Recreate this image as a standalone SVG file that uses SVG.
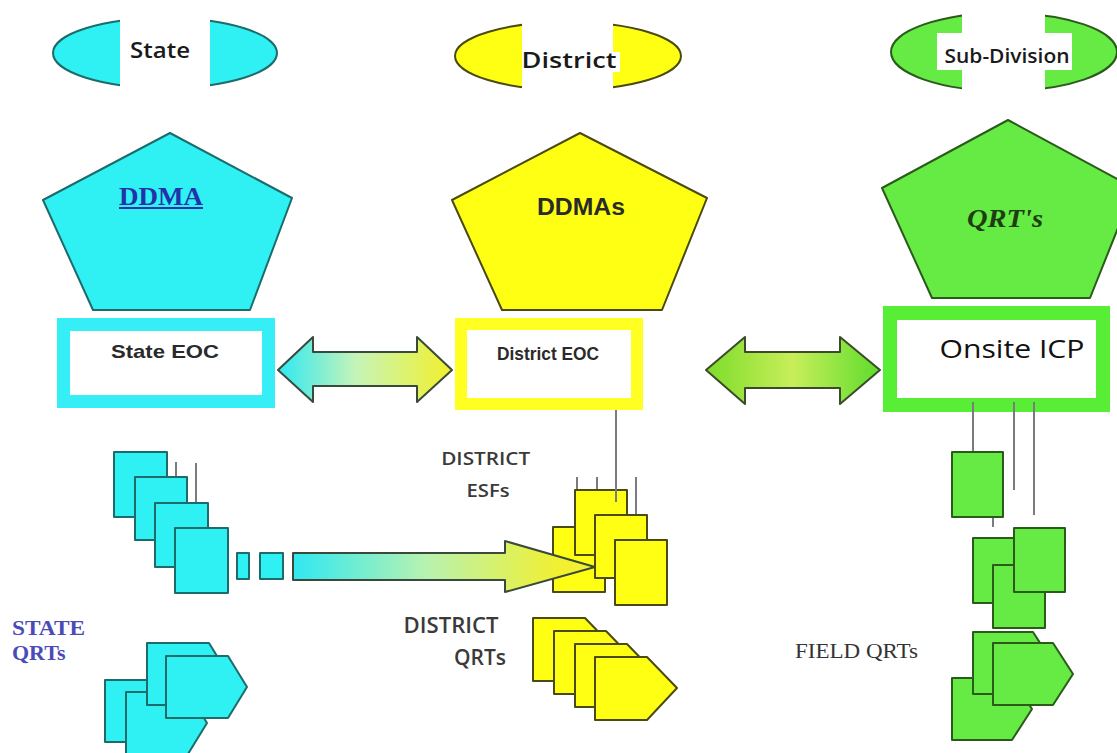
<svg xmlns="http://www.w3.org/2000/svg" width="1117" height="753" viewBox="0 0 1117 753">
  <style>
    .cy { fill: #2ff0f2; stroke: #1d6b6b; stroke-width: 2; stroke-linejoin: round; }
    .ye { fill: #ffff14; stroke: #4a4a12; stroke-width: 2; stroke-linejoin: round; }
    .gr { fill: #66ea44; stroke: #2b5b1b; stroke-width: 2; stroke-linejoin: round; }
    .cut { fill: #ffffff; }
    .wire { stroke: #7a7a80; stroke-width: 2; fill: none; }
    .lvl { font-family: "Open Sans", "Noto Sans", sans-serif; font-weight: 600; fill: #1a1a1a; }
    .eoc { font-family: "Liberation Sans", Arial, sans-serif; font-weight: bold; fill: #2a2a2a; }
    .cap { font-family: "Open Sans", "Noto Sans", sans-serif; font-weight: 600; fill: #3a3a3a; }
    .serif { font-family: "Liberation Serif", "Times New Roman", serif; }
  </style>
  <defs>
    <linearGradient id="gradCyYe" x1="0" y1="0" x2="1" y2="0">
      <stop offset="0" stop-color="#2fe8f2"/>
      <stop offset="0.45" stop-color="#c6f4b8"/>
      <stop offset="1" stop-color="#f2f02a"/>
    </linearGradient>
    <linearGradient id="gradGr" x1="0" y1="0" x2="1" y2="0">
      <stop offset="0" stop-color="#7ddc2a"/>
      <stop offset="0.5" stop-color="#c8ee5a"/>
      <stop offset="1" stop-color="#5edc2c"/>
    </linearGradient>
    <linearGradient id="gradLow" gradientUnits="userSpaceOnUse" x1="293" y1="0" x2="560" y2="0">
      <stop offset="0" stop-color="#2fe8f2"/>
      <stop offset="0.5" stop-color="#b8f2b0"/>
      <stop offset="1" stop-color="#f2f030"/>
    </linearGradient>
  </defs>

  <rect width="1117" height="753" fill="#ffffff"/>

  <!-- level headers -->
  <g id="hdr-state">
    <ellipse class="cy" cx="165" cy="53" rx="112" ry="35"/>
    <rect class="cut" x="120" y="12" width="90" height="82"/>
    <text class="lvl" x="160" y="58" font-size="21" text-anchor="middle" textLength="60" lengthAdjust="spacingAndGlyphs">State</text>
  </g>
  <g id="hdr-district">
    <ellipse class="ye" cx="568" cy="56" rx="113" ry="34"/>
    <rect class="cut" x="522" y="16" width="91" height="80"/>
    <rect class="cut" x="600" y="52" width="20" height="20"/>
    <text class="lvl" x="569" y="68" font-size="22" text-anchor="middle" textLength="95" lengthAdjust="spacingAndGlyphs">District</text>
  </g>
  <g id="hdr-subdivision">
    <ellipse class="gr" cx="1004" cy="52" rx="113" ry="39"/>
    <rect class="cut" x="962" y="8" width="83" height="90"/>
    <rect class="cut" x="937" y="33" width="135" height="37"/>
    <text class="lvl" x="1007" y="63" font-size="19" text-anchor="middle" textLength="125" lengthAdjust="spacingAndGlyphs">Sub-Division</text>
  </g>

  <!-- authorities -->
  <g id="ddma">
    <polygon class="cy" points="170,133 292,198 250,310 93,310 43,200"/>
    <text class="serif" x="161" y="205" font-size="25" font-weight="bold" fill="#2233aa" text-anchor="middle" textLength="84" lengthAdjust="spacingAndGlyphs">DDMA</text>
    <rect x="119" y="207" width="84" height="2" fill="#2233aa"/>
  </g>
  <g id="ddmas">
    <polygon class="ye" points="580,133 707,198 662,310 502,310 452,200"/>
    <text class="eoc" x="581" y="215" font-size="23" text-anchor="middle" textLength="88" lengthAdjust="spacingAndGlyphs">DDMAs</text>
  </g>
  <g id="qrts-top">
    <polygon class="gr" points="1008,120 1134,188 1090,298 932,298 882,188"/>
    <text class="serif" x="1005" y="227" font-size="26" font-weight="bold" font-style="italic" fill="#1d3d12" text-anchor="middle" textLength="76" lengthAdjust="spacingAndGlyphs">QRT's</text>
  </g>

  <!-- operation centres -->
  <g id="state-eoc">
    <rect x="63.5" y="324.5" width="205" height="77" fill="#ffffff" stroke="#36eef5" stroke-width="13"/>
    <text class="eoc" x="165" y="358" font-size="19" text-anchor="middle" textLength="108" lengthAdjust="spacingAndGlyphs">State EOC</text>
  </g>
  <g id="district-eoc">
    <rect x="461" y="324" width="176" height="80" fill="#ffffff" stroke="#ffff22" stroke-width="12"/>
    <text class="eoc" x="548" y="360" font-size="18" text-anchor="middle" textLength="102" lengthAdjust="spacingAndGlyphs">District EOC</text>
  </g>
  <g id="onsite-icp">
    <rect x="890" y="313" width="213" height="92" fill="#ffffff" stroke="#58ee36" stroke-width="14"/>
    <text x="1012" y="358" font-family="Open Sans, Noto Sans, sans-serif" font-size="25" font-weight="500" fill="#111111" text-anchor="middle" textLength="145" lengthAdjust="spacingAndGlyphs">Onsite ICP</text>
  </g>

  <!-- connectors -->
  <g id="connectors">
    <polygon points="278,370 313,337 313,352 417,352 417,337 452,370 417,402 417,386 313,386 313,402" fill="url(#gradCyYe)" stroke="#3a4a3a" stroke-width="2" stroke-linejoin="round"/>
    <polygon points="706,370 745,337 745,352 840,352 840,337 880,370 840,404 840,388 745,388 745,404" fill="url(#gradGr)" stroke="#3a4a2a" stroke-width="2" stroke-linejoin="round"/>
    <line class="wire" x1="176" y1="462" x2="176" y2="477"/>
    <line class="wire" x1="196" y1="463" x2="196" y2="503"/>
    <line class="wire" x1="577" y1="477" x2="577" y2="490"/>
    <line class="wire" x1="597" y1="477" x2="597" y2="490"/>
    <line class="wire" x1="636" y1="477" x2="636" y2="515"/>
    <line class="wire" x1="973" y1="402" x2="973" y2="452"/>
    <line class="wire" x1="1014" y1="402" x2="1014" y2="490"/>
    <line class="wire" x1="1034" y1="402" x2="1034" y2="515"/>
    <line class="wire" x1="993" y1="517" x2="993" y2="527"/>
  </g>

  <!-- state emergency support functions -->
  <g id="state-esfs">
    <rect class="cy" x="114" y="452" width="53" height="65"/>
    <rect class="cy" x="135" y="477" width="52" height="63"/>
    <rect class="cy" x="155" y="503" width="53" height="64"/>
    <rect class="cy" x="175" y="528" width="53" height="65"/>
    <rect class="cy" x="237" y="553" width="12" height="26"/>
    <rect class="cy" x="260" y="553" width="23" height="26"/>
  </g>

  <!-- district emergency support functions -->
  <g id="district-esfs">
    <rect class="ye" x="553" y="527" width="52" height="65"/>
    <rect class="ye" x="575" y="490" width="52" height="65"/>
    <line class="wire" x1="616" y1="410" x2="616" y2="502"/>
    <polygon points="293,553 505,553 505,541 595,567 505,592 505,580 293,580" fill="url(#gradLow)" stroke="#3a4a3a" stroke-width="2" stroke-linejoin="round"/>
    <rect class="ye" x="595" y="515" width="52" height="63"/>
    <rect class="ye" x="615" y="540" width="52" height="65"/>
    <text class="cap" font-size="18" text-anchor="middle">
      <tspan x="488" y="465" textLength="89" lengthAdjust="spacingAndGlyphs">DISTRICT</tspan>
      <tspan x="488" y="497" textLength="43" lengthAdjust="spacingAndGlyphs">ESFs</tspan>
    </text>
  </g>

  <!-- district quick response teams -->
  <g id="district-qrts">
    <polygon class="ye" points="533,618 585,618 615,649 585,681 533,681"/>
    <polygon class="ye" points="554,631 606,631 636,662 606,694 554,694"/>
    <polygon class="ye" points="575,644 627,644 657,675 627,707 575,707"/>
    <polygon class="ye" points="595,657 647,657 677,688 647,720 595,720"/>
    <text class="cap" font-size="21" text-anchor="end">
      <tspan x="504" y="633" textLength="95" lengthAdjust="spacingAndGlyphs">DISTRICT</tspan>
      <tspan x="506" y="665">QRTs</tspan>
    </text>
  </g>

  <!-- state quick response teams -->
  <g id="state-qrts">
    <polygon class="cy" points="105,680 167,680 186,711 167,742 105,742"/>
    <polygon class="cy" points="126,692 188,692 207,723 188,754 126,754"/>
    <polygon class="cy" points="147,643 209,643 228,674 209,705 147,705"/>
    <polygon class="cy" points="166,656 228,656 247,687 228,718 166,718"/>
    <text class="serif" font-size="22" font-weight="bold" fill="#4b4bb8">
      <tspan x="12" y="635" textLength="73" lengthAdjust="spacingAndGlyphs">STATE</tspan>
      <tspan x="12" y="660">QRTs</tspan>
    </text>
  </g>

  <!-- field quick response teams -->
  <g id="field-qrts">
    <rect class="gr" x="952" y="452" width="51" height="65"/>
    <rect class="gr" x="973" y="538" width="50" height="65"/>
    <rect class="gr" x="993" y="565" width="52" height="63"/>
    <rect class="gr" x="1014" y="528" width="51" height="64"/>
    <polygon class="gr" points="952,678 1012,678 1032,709 1012,740 952,740"/>
    <polygon class="gr" points="973,632 1033,632 1053,663 1033,694 973,694"/>
    <polygon class="gr" points="993,643 1053,643 1073,674 1053,705 993,705"/>
    <text class="serif" x="795" y="658" font-size="20" fill="#333333" textLength="123" lengthAdjust="spacingAndGlyphs">FIELD QRTs</text>
  </g>
</svg>
